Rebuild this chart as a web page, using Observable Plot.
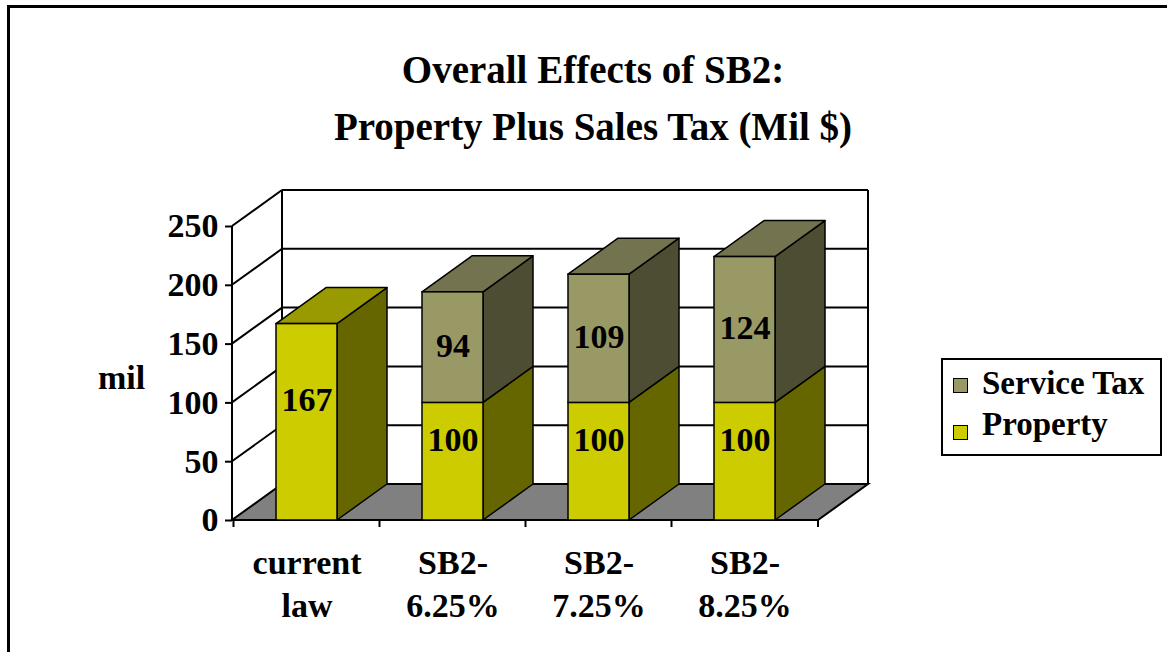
<!DOCTYPE html>
<html>
<head>
<meta charset="utf-8">
<script src="https://cdn.jsdelivr.net/npm/d3@7"></script>
<script src="https://cdn.jsdelivr.net/npm/@observablehq/plot@0.6"></script>
<style>
  html, body { margin: 0; padding: 0; background: #fff; }
  #wrap { position: relative; width: 1171px; height: 652px; overflow: hidden; background: #fff;
          font-family: "Liberation Serif", "Times New Roman", serif; font-weight: bold; color: #000; }
  #chart { position: absolute; left: 0; top: 0; }
  #title { position: absolute; left: 0; top: 41px; width: 1186px; text-align: center;
           font-size: 39px; line-height: 57px; }
  #legend { position: absolute; left: 941px; top: 358px; width: 221px; height: 98px;
            border: 2px solid #000; box-sizing: border-box; background: #fff; }
  .sw { position: absolute; width: 15px; height: 15px; border: 1.5px solid #000; box-sizing: border-box; }
  .lt { position: absolute; font-size: 33px; line-height: 33px; white-space: nowrap; }
  #border { position: absolute; left: 7px; top: 5px; width: 1160px; height: 700px;
            border-left: 3px solid #000; border-top: 3px solid #000; box-sizing: border-box; pointer-events: none; }
</style>
</head>
<body>
<div id="wrap">
  <div id="chart"></div>
  <div id="title">Overall Effects of SB2:<br>Property Plus Sales Tax (Mil $)</div>
  <div id="legend"></div>
  <div id="border"></div>
</div>
<script>
// ---- data ----
const categories = ["current law", "SB2-6.25%", "SB2-7.25%", "SB2-8.25%"];
const categoryLabels = ["current\nlaw", "SB2-\n6.25%", "SB2-\n7.25%", "SB2-\n8.25%"];
const series = ["Property", "Service Tax"];
const property = [167, 100, 100, 100];
const serviceTax = [null, 94, 109, 124];
const yTicks = [0, 50, 100, 150, 200, 250];
const axisLabel = "mil";

// ---- styles ----
const frontColors = ["#CCCC00", "#999966"];
const sideColors = ["#666600", "#4D4D33"];
const topColors = ["#999900", "#737350"];
const DX = 50, DY = -36; // 3D depth offset in pixels
const FONT = "'Liberation Serif', 'Times New Roman', serif";

// ---- stacked rows ----
const rows = [];
categories.forEach((cat, i) => {
  let base = 0;
  [property[i], serviceTax[i]].forEach((v, s) => {
    if (v == null) return;
    rows.push({cat, series: series[s], s, value: v, y1: base, y2: base + v});
    base += v;
  });
});
categories.forEach(cat => {
  const r = rows.filter(d => d.cat === cat);
  r[r.length - 1].isTop = true;
});

function walls(index, scales) {
  const {x, y} = scales;
  const [x0, x1] = x.range();
  const y0 = y(0), yT = y(d3.max(yTicks));
  const g = d3.create("svg:g").attr("fill", "none").attr("stroke", "#000").attr("stroke-width", 2);
  g.append("path").attr("fill", "#808080")
    .attr("d", `M${x0},${y0}L${x1},${y0}L${x1 + DX},${y0 + DY}L${x0 + DX},${y0 + DY}Z`);
  for (const v of yTicks) {
    if (v === 0) continue;
    const yy = y(v);
    g.append("line").attr("x1", x0 + DX).attr("x2", x1 + DX).attr("y1", yy + DY).attr("y2", yy + DY);
    g.append("line").attr("x1", x0).attr("x2", x0 + DX).attr("y1", yy).attr("y2", yy + DY);
  }
  g.append("line").attr("x1", x0 + DX).attr("x2", x0 + DX).attr("y1", y0 + DY).attr("y2", yT + DY);
  g.append("line").attr("x1", x1 + DX).attr("x2", x1 + DX).attr("y1", y0 + DY).attr("y2", yT + DY);
  g.append("line").attr("x1", x0).attr("x2", x0).attr("y1", y0).attr("y2", yT);
  const step = x.step(), bw = x.bandwidth();
  const bounds = categories.map(c => x(c) - (step - bw) / 2).concat([x1]);
  for (const b of bounds) {
    g.append("line").attr("x1", b).attr("x2", b).attr("y1", y0).attr("y2", y0 + 7);
  }
  return g.node();
}

function depth(index, scales) {
  const {x, y} = scales;
  const bw = x.bandwidth();
  const g = d3.create("svg:g").attr("stroke", "#000").attr("stroke-width", 1.5).attr("stroke-linejoin", "round");
  for (const r of rows) {
    const xl = x(r.cat), xr = xl + bw;
    const yt = y(r.y2), yb = y(r.y1);
    g.append("path").attr("fill", sideColors[r.s])
      .attr("d", `M${xr},${yt}L${xr + DX},${yt + DY}L${xr + DX},${yb + DY}L${xr},${yb}Z`);
    if (r.isTop) {
      g.append("path").attr("fill", topColors[r.s])
        .attr("d", `M${xl},${yt}L${xr},${yt}L${xr + DX},${yt + DY}L${xl + DX},${yt + DY}Z`);
    }
  }
  return g.node();
}

const textOpts = {fontSize: 34, fontWeight: "bold", fontFamily: FONT, fill: "#000"};

const chart = Plot.plot({
  width: 1171,
  height: 652,
  marginLeft: 232,
  marginRight: 353,
  marginTop: 226,
  marginBottom: 132,
  style: {fontFamily: FONT, fontSize: "34px", fontWeight: "bold", background: "transparent", color: "#000"},
  x: {type: "band", domain: categories, paddingInner: 0.584, paddingOuter: 0.292, axis: null},
  y: {domain: [0, 250]},
  color: {domain: series, range: frontColors},
  marks: [
    walls,
    Plot.axisY(yTicks, {tickSize: 7, tickPadding: 7, stroke: "#000", strokeWidth: 2, label: null,
      fontSize: 34, fontWeight: "bold", fontFamily: FONT}),
    depth,
    Plot.rect(rows, {x: "cat", y1: "y1", y2: "y2", fill: "series", stroke: "#000", strokeWidth: 1.5}),
    Plot.text(rows.filter(d => d.series === "Property"),
      {x: "cat", y: d => (d.y1 + d.y2) / 2, text: d => String(d.value), dy: -22, ...textOpts}),
    Plot.text(rows.filter(d => d.series === "Service Tax"),
      {x: "cat", y: d => (d.y1 + d.y2) / 2, text: d => String(d.value), dy: -2, ...textOpts}),
    Plot.text(categories, {x: d => d, text: (d, i) => categoryLabels[i], frameAnchor: "bottom",
      lineAnchor: "middle", dy: 61, lineHeight: 1.27, ...textOpts}),
    Plot.text([axisLabel], {frameAnchor: "left", textAnchor: "middle", text: d => d, dx: -111, dy: 5, ...textOpts})
  ]
});
document.getElementById("chart").appendChild(chart);

// ---- legend ----
const legend = document.getElementById("legend");
const legendOrder = [1, 0];
legendOrder.forEach((s, k) => {
  const sw = document.createElement("div");
  sw.className = "sw";
  sw.style.left = "10px";
  sw.style.top = (18 + k * 47) + "px";
  sw.style.background = frontColors[s];
  legend.appendChild(sw);
  const t = document.createElement("div");
  t.className = "lt";
  t.style.left = "39px";
  t.style.top = (7 + k * 41) + "px";
  t.textContent = series[s];
  legend.appendChild(t);
});
</script>
</body>
</html>
